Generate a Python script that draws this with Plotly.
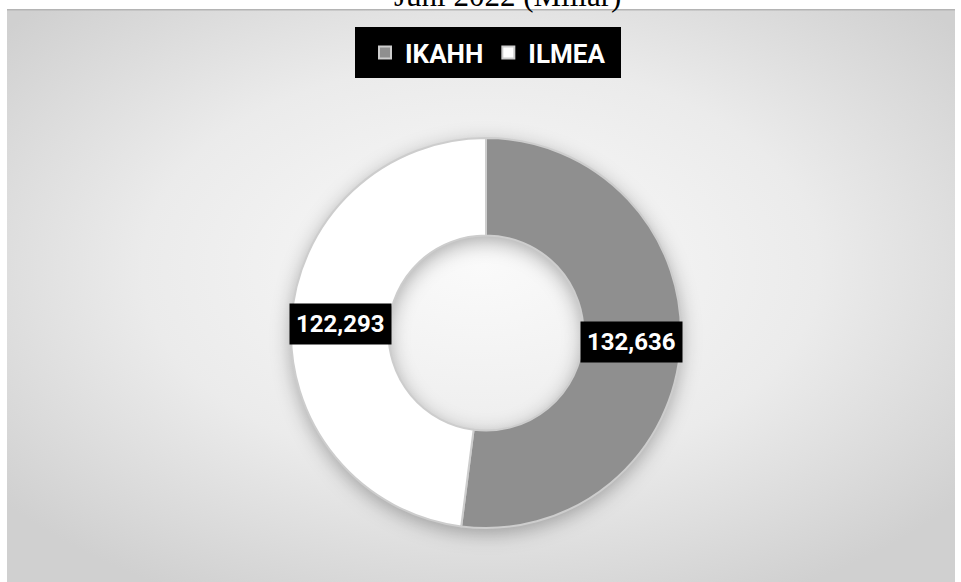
import base64
import math
import plotly.graph_objects as go

# ---- data ----
categories = ["IKAHH", "ILMEA"]
values = [132636, 122293]
value_labels = ["132,636", "122,293"]
title_text = "Juni 2022 (Miliar)"

# ---- style / layout constants ----
W, H = 961, 582
CX, CY, R = 486, 333, 195      # donut centre / outer radius in px
HOLE = 0.5
colors = ["#8f8f8f", "#ffffff"]
AREA_X0, AREA_Y0, AREA_X1 = 7, 9, 955
LEG_BOX = (355, 27, 621, 78)    # legend background box in px

# background panel (gradient + soft donut shadow) as an SVG image
aw, ah = AREA_X1 - AREA_X0, H - AREA_Y0
scx, scy = CX - AREA_X0, CY - AREA_Y0 + 5
ring_r = R * (1 + HOLE) / 2
ring_w = R * (1 - HOLE)
svg = f"""<svg xmlns='http://www.w3.org/2000/svg' width='{aw}' height='{ah}' viewBox='0 0 {aw} {ah}' preserveAspectRatio='none'>
<defs>
<radialGradient id='g' cx='0.5' cy='0.45' r='0.65'>
<stop offset='0' stop-color='#fafafa'/>
<stop offset='0.55' stop-color='#ebebeb'/>
<stop offset='1' stop-color='#d0d0d0'/>
</radialGradient>
<filter id='b' x='-30%' y='-30%' width='160%' height='160%'><feGaussianBlur stdDeviation='10'/></filter>
</defs>
<rect x='0' y='0' width='{aw}' height='{ah}' fill='url(#g)'/>
<circle cx='{scx}' cy='{scy}' r='{ring_r}' fill='none' stroke='#000' stroke-opacity='0.32' stroke-width='{ring_w}' filter='url(#b)'/>
<line x1='0' y1='0.8' x2='{aw}' y2='0.8' stroke='#b4b4b4' stroke-width='1.6'/>
</svg>"""
svg_uri = "data:image/svg+xml;base64," + base64.b64encode(svg.encode()).decode()

fig = go.Figure()
fig.add_trace(go.Pie(
    labels=categories,
    values=values,
    hole=HOLE,
    sort=False,
    direction="clockwise",
    rotation=0,
    marker=dict(colors=colors, line=dict(color="#cdcdcd", width=2)),
    textinfo="none",
    hoverinfo="label+value",
    domain=dict(x=[(CX - R) / W, (CX + R) / W], y=[(H - CY - R) / H, (H - CY + R) / H]),
    showlegend=True,
))

# data labels placed at mid-angle of each slice, middle of the ring
total = sum(values)
cum = 0
annotations = []
label_r = R * (1 + HOLE) / 2
for v, txt in zip(values, value_labels):
    mid = (cum + v / 2) / total * 2 * math.pi
    cum += v
    px = CX + label_r * math.sin(mid)
    py = CY - label_r * math.cos(mid)
    annotations.append(dict(
        x=px / W, y=1 - py / H, xref="paper", yref="paper",
        text=txt, showarrow=False,
        font=dict(family="Roboto", size=24, color="white", weight="bold"),
        bgcolor="black", borderpad=6,
        xanchor="center", yanchor="middle",
    ))

annotations.append(dict(
    x=507 / W, y=1 - 15 / H, xref="paper", yref="paper",
    text=title_text, showarrow=False,
    font=dict(family="Liberation Serif", size=31, color="black"),
    xanchor="center", yanchor="bottom",
))

lx0, ly0, lx1, ly1 = LEG_BOX
fig.update_layout(
    width=W, height=H,
    margin=dict(l=0, r=0, t=0, b=0),
    paper_bgcolor="white",
    plot_bgcolor="rgba(0,0,0,0)",
    images=[dict(
        source=svg_uri, xref="paper", yref="paper",
        x=AREA_X0 / W, y=1 - AREA_Y0 / H,
        sizex=aw / W, sizey=ah / H,
        xanchor="left", yanchor="top",
        sizing="stretch", layer="below",
    )],
    shapes=[dict(
        type="rect", xref="paper", yref="paper",
        x0=lx0 / W, x1=lx1 / W, y0=1 - ly1 / H, y1=1 - ly0 / H,
        fillcolor="black", line=dict(width=0), layer="above",
    )],
    legend=dict(
        orientation="h",
        x=488 / W, y=1 - 29 / H, xanchor="center", yanchor="top",
        bgcolor="black",
        font=dict(family="Roboto", size=26, color="white", weight="bold"),
        itemwidth=30,
        borderwidth=0,
    ),
    annotations=annotations,
)

fig.write_html(
    "out.html",
    config={"displayModeBar": False},
    post_script="document.body.style.margin='0';document.body.style.padding='0';",
)
